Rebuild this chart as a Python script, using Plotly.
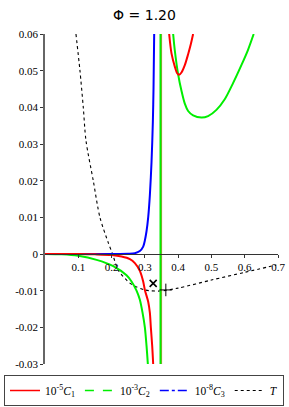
import plotly.graph_objects as go

# ---- data ----
c1_left_x = [0, 0.1, 0.15, 0.2, 0.23, 0.255, 0.27, 0.285, 0.295, 0.30, 0.31, 0.315, 0.318, 0.322, 0.325]
c1_left_y = [0, -0.00001, -0.0001, -0.0003, -0.0007, -0.0014, -0.0025, -0.0046, -0.0075, -0.0098, -0.013, -0.016, -0.02, -0.025, -0.03]
c1_right_x = [0.373, 0.38, 0.39, 0.397, 0.403, 0.41, 0.42, 0.43, 0.438, 0.445]
c1_right_y = [0.06, 0.0547, 0.0511, 0.0493, 0.0489, 0.0495, 0.0515, 0.0545, 0.0572, 0.06]
c1_pole_x = [0.350, 0.350]
c1_pole_y = [-0.03, 0.06]

c2_left_x = [0, 0.05, 0.1, 0.155, 0.205, 0.245, 0.26, 0.275, 0.285, 0.293, 0.3, 0.305, 0.309]
c2_left_y = [0, -0.0001, -0.0005, -0.0016, -0.0033, -0.0058, -0.0075, -0.0100, -0.0125, -0.016, -0.020, -0.025, -0.03]
c2_pole_x = [0.347, 0.347]
c2_pole_y = [-0.03, 0.06]
c2_right_x = [0.385, 0.39, 0.40, 0.41, 0.42, 0.43, 0.445, 0.47, 0.49, 0.515, 0.54, 0.565, 0.59, 0.61, 0.627]
c2_right_y = [0.06, 0.0555, 0.049, 0.0445, 0.041, 0.0390, 0.0378, 0.0372, 0.0376, 0.0393, 0.0422, 0.0466, 0.0515, 0.0557, 0.06]

c3_x = [0, 0.1, 0.2, 0.25, 0.27, 0.285, 0.295, 0.30, 0.305, 0.31, 0.315, 0.32, 0.324, 0.326, 0.328]
c3_y = [0, 0, 0, 0.00005, 0.0002, 0.0008, 0.002, 0.0037, 0.0062, 0.01, 0.016, 0.025, 0.036, 0.045, 0.06]

t_x = [0.093, 0.105, 0.115, 0.123, 0.145, 0.165, 0.19, 0.203, 0.22, 0.256, 0.30, 0.345, 0.40, 0.50, 0.60, 0.695]
t_y = [0.06, 0.05, 0.04, 0.031, 0.02, 0.01, 0.0031, 0, -0.0044, -0.008, -0.0098, -0.0101, -0.0093, -0.0071, -0.005, -0.003]

x_mark = [0.325]
y_mark = [-0.008]
plus_mark_x = [0.363]
plus_mark_y = [-0.0098]

x_ticks = [0.1, 0.2, 0.3, 0.4, 0.5, 0.6, 0.7]
x_ticklabels = ["0.1", "0.2", "0.3", "0.4", "0.5", "0.6", "0.7"]
y_ticks = [0.06, 0.05, 0.04, 0.03, 0.02, 0.01, 0, -0.01, -0.02, -0.03]
y_ticklabels = ["0.06", "0.05", "0.04", "0.03", "0.02", "0.01", "0", "-0.01", "-0.02", "-0.03"]

legend_names = ["10<sup>-5</sup><i>C</i><sub>1</sub>", "10<sup>-3</sup><i>C</i><sub>2</sub>",
                "10<sup>-8</sup><i>C</i><sub>3</sub>", "<i>T</i>"]
legend_colors = ["#ff0000", "#00ee00", "#0000ff", "#000000"]
legend_dash = ["solid", "dash", "dashdot", "dot"]

RED, GREEN, BLUE = "#ff0000", "#00ee00", "#0000ff"

W, H = 289, 407
PLOT_L, PLOT_R, PLOT_T, PLOT_B = 45, 278, 34, 364

fig = go.Figure()

def line(x, y, color, width=2, dash="solid", shape="spline"):
    fig.add_trace(go.Scatter(x=x, y=y, mode="lines", showlegend=False, hoverinfo="skip",
                             line=dict(color=color, width=width, dash=dash, shape=shape, smoothing=0.8)))

line(t_x, t_y, "#000000", width=1.1, dash="dot")
line(c1_pole_x, c1_pole_y, "#d9894a", width=1.2, shape="linear")
line(c2_pole_x, c2_pole_y, GREEN, width=2, shape="linear")
line(c3_x, c3_y, BLUE)
line(c2_left_x, c2_left_y, GREEN)
line(c2_right_x, c2_right_y, GREEN)
line(c1_left_x, c1_left_y, RED)
line(c1_right_x, c1_right_y, RED)

fig.add_trace(go.Scatter(x=x_mark, y=y_mark, mode="markers", showlegend=False, hoverinfo="skip",
                         marker=dict(symbol="x-thin", size=7, line=dict(color="#000000", width=1.6))))
fig.add_trace(go.Scatter(x=plus_mark_x, y=plus_mark_y, mode="markers", showlegend=False, hoverinfo="skip",
                         marker=dict(symbol="cross-thin", size=9, line=dict(color="#000000", width=1))))

for name, col, dsh in zip(legend_names, legend_colors, legend_dash):
    fig.add_trace(go.Scatter(x=[None], y=[None], mode="lines", name=name,
                             line=dict(color=col, width=1.5 if dsh != "dot" else 1, dash=dsh)))

y0 = (H - PLOT_B) / H
y1 = (H - PLOT_T) / H
x_axis_pos = y0 + (y1 - y0) * (0 - (-0.03)) / (0.06 - (-0.03))

fig.update_layout(
    width=W, height=H,
    margin=dict(l=0, r=0, t=0, b=0, autoexpand=False),
    paper_bgcolor="white", plot_bgcolor="white",
    title=dict(text="Φ = 1.20", x=0.5, xref="container", xanchor="center",
               y=1 - 15 / H, yref="container", yanchor="middle",
               font=dict(family="DejaVu Sans", size=14, color="#000000")),
    font=dict(family="Liberation Serif", size=11, color="#000000"),
    showlegend=True,
    legend=dict(orientation="h", x=4 / W, xanchor="left", y=1 - 375 / H, yanchor="top",
                bordercolor="#444444", borderwidth=1, bgcolor="white",
                font=dict(family="Liberation Serif", size=11.5, color="#000000"),
                itemwidth=30, tracegroupgap=0),
    xaxis=dict(range=[0, 0.7], domain=[PLOT_L / W, PLOT_R / W], anchor="free", position=x_axis_pos,
               showline=True, linecolor="#333333", linewidth=1,
               showgrid=False, zeroline=False,
               tickvals=x_ticks, ticktext=x_ticklabels,
               ticks="outside", ticklen=3, tickcolor="#333333",
               tickfont=dict(family="Liberation Serif", size=11)),
    yaxis=dict(range=[-0.03, 0.06], domain=[y0, y1], showline=True, linecolor="#666666", linewidth=1.5,
               showgrid=False, zeroline=False,
               tickvals=y_ticks, ticktext=y_ticklabels,
               ticks="outside", ticklen=3, tickcolor="#333333",
               tickfont=dict(family="Liberation Serif", size=11)),
)

fig.write_html("out.html", config={"displayModeBar": False},
               post_script="document.body.style.margin='0';document.body.style.overflow='hidden';")
